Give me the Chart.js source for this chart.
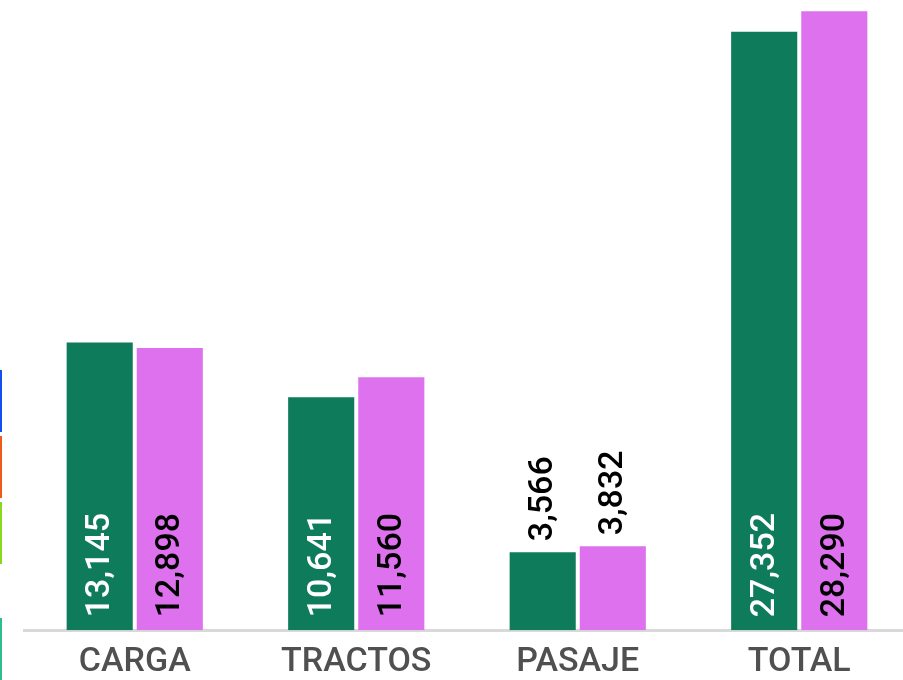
<!DOCTYPE html>
<html>
<head>
<meta charset="utf-8">
<script src="https://cdn.jsdelivr.net/npm/chart.js@4/dist/chart.umd.min.js"></script>
<style>
  html, body { margin: 0; padding: 0; background: #fff; overflow: hidden; }
  #wrap { position: relative; width: 903px; height: 680px; overflow: hidden; }
  #box { position: absolute; left: 0; top: 0; width: 910px; height: 680px; }
  .tira { position: absolute; left: 0; width: 2px; }
</style>
</head>
<body>
<div id="wrap">
  <div id="box"><canvas id="grafica"></canvas></div>
  <!-- restos de la leyenda recortada -->
  <div class="tira" style="top:370px;height:62px;background:#1450ef"></div>
  <div class="tira" style="top:436px;height:62px;background:#ef5a19"></div>
  <div class="tira" style="top:502px;height:62px;background:#8ad81c"></div>
  <div class="tira" style="top:618px;height:62px;background:#2dbd8e"></div>
</div>
<script>
// datos
var categorias = ['CARGA', 'TRACTOS', 'PASAJE', 'TOTAL'];
var serieA = [13145, 10641, 3566, 27352];
var serieB = [12898, 11560, 3832, 28290];

var colorA = '#0e7b5a';
var colorB = '#de72ee';

// etiquetas verticales dentro o encima de cada barra
var etiquetas = {
  id: 'etiquetas',
  afterDatasetsDraw: function (chart) {
    var ctx = chart.ctx;
    ctx.save();
    ctx.font = '500 34px Roboto';
    chart.data.datasets.forEach(function (ds, i) {
      var meta = chart.getDatasetMeta(i);
      meta.data.forEach(function (bar, j) {
        var texto = ds.data[j].toLocaleString('en-US');
        var ancho = ctx.measureText(texto).width;
        var alto = bar.base - bar.y;
        ctx.save();
        if (alto > ancho + 30) {
          ctx.translate(bar.x, bar.base - 13);
          ctx.fillStyle = i === 0 ? '#ffffff' : '#000000';
        } else {
          ctx.translate(bar.x, bar.y - 11);
          ctx.fillStyle = '#000000';
        }
        ctx.rotate(-Math.PI / 2);
        ctx.textAlign = 'left';
        ctx.textBaseline = 'middle';
        ctx.fillText(texto, 0, 1);
        ctx.restore();
      });
    });
    ctx.restore();
  }
};

var ctx = document.getElementById('grafica');
new Chart(ctx, {
  type: 'bar',
  data: {
    labels: categorias,
    datasets: [
      { data: serieA, backgroundColor: colorA, categoryPercentage: 0.633, barPercentage: 0.943 },
      { data: serieB, backgroundColor: colorB, categoryPercentage: 0.633, barPercentage: 0.943 }
    ]
  },
  options: {
    responsive: true,
    maintainAspectRatio: false,
    animation: false,
    layout: { padding: { left: 24, top: 0, right: 0, bottom: -15 } },
    plugins: {
      legend: { display: false },
      tooltip: { enabled: false }
    },
    scales: {
      x: {
        grid: { display: false, drawTicks: false },
        border: { display: true, color: '#d9d9d9', width: 3 },
        ticks: {
          color: '#505050',
          padding: 12,
          font: { family: 'Roboto', size: 34, weight: '500' }
        }
      },
      y: {
        display: false,
        min: 0,
        max: 28800
      }
    }
  },
  plugins: [etiquetas]
});
</script>
</body>
</html>
